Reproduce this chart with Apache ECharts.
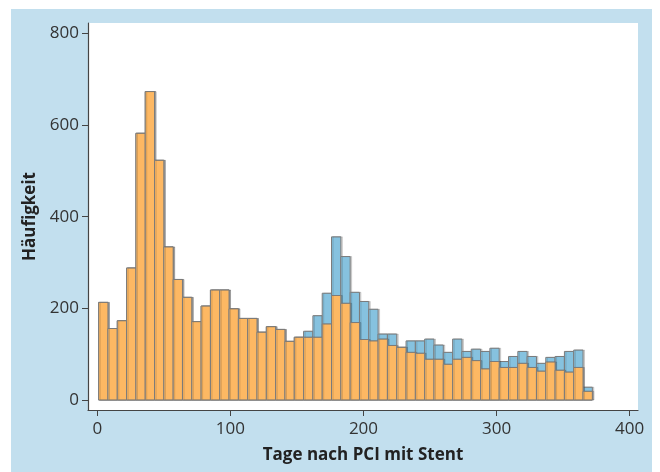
<!DOCTYPE html>
<html>
<head>
<meta charset="utf-8">
<script src="https://cdn.jsdelivr.net/npm/echarts@6/dist/echarts.min.js"></script>
<style>
html,body{margin:0;padding:0;background:#fff;}
#c{width:660px;height:472px;}
</style>
</head>
<body>
<div id="c"></div>
<script>
// bin start (days), bin width 7 days
var binStarts = [1,8,15,22,29,36,43,50,57,64,71,78,85,92,99,106,113,120,127,134,141,148,155,162,169,176,183,190,197,204,211,218,225,232,239,246,253,260,267,274,281,288,295,302,309,316,323,330,337,344,351,358,365];
var binWidth = 7;
// orange part (front)
var orangeCounts = [213,156,173,288,582,673,523,334,263,224,171,205,240,240,199,178,178,148,160,154,128,137,137,137,166,228,211,169,132,129,133,119,115,104,102,89,89,78,89,93,86,68,84,71,71,80,71,63,83,65,61,71,19];
// total (blue, behind)
var totalCounts = [213,156,173,288,582,673,523,334,263,224,171,205,240,240,199,178,178,148,160,154,128,137,150,184,233,356,313,235,215,198,144,144,115,129,129,133,120,104,133,106,111,106,113,84,95,106,95,80,93,95,106,109,28];
var yTicks = [0,200,400,600,800];
var xTicks = [0,100,200,300,400];

function mk(vals){
  return binStarts.map(function(s,i){return [s, s+binWidth, vals[i]];});
}
function render(color){
  return function(params, api){
    var p0 = api.coord([api.value(0), api.value(2)]);
    var p1 = api.coord([api.value(1), 0]);
    return {
      type:'rect',
      shape:{x:p0[0], y:p0[1], width:p1[0]-p0[0], height:p1[1]-p0[1]},
      style:{fill:color, stroke:'#7b7b7b', lineWidth:1,
             shadowColor:'rgba(0,0,0,0.15)', shadowOffsetX:1.5, shadowOffsetY:0, shadowBlur:0}
    };
  };
}
var chart = echarts.init(document.getElementById('c'), null, {renderer:'canvas'});
chart.setOption({
  backgroundColor:'#fff',
  animation:false,
  graphic:[{type:'rect', left:11, top:9, shape:{width:641, height:463}, style:{fill:'#c2dfee'}, z:-10}],
  grid:{left:88, top:23, right:22, bottom:62, show:true, backgroundColor:'#fff', borderWidth:0},
  xAxis:{
    type:'value', min:-7, max:406.3,
    name:'Tage nach PCI mit Stent', nameLocation:'middle', nameGap:37,
    nameTextStyle:{fontFamily:'Open Sans', fontWeight:'bold', fontSize:17, color:'#222'},
    axisLine:{show:true, onZero:false, lineStyle:{color:'#444', width:1.2}},
    axisTick:{show:true, length:6, customValues:xTicks, lineStyle:{color:'#444'}},
    axisLabel:{customValues:xTicks, margin:11, fontFamily:'Open Sans', fontSize:17, color:'#333'},
    splitLine:{show:false}
  },
  yAxis:{
    type:'value', min:-21.8, max:822.6,
    name:'Häufigkeit', nameLocation:'middle', nameGap:46, nameRotate:90,
    nameTextStyle:{fontFamily:'Open Sans', fontWeight:'bold', fontSize:17, color:'#222'},
    axisLine:{show:true, onZero:false, lineStyle:{color:'#444', width:1.2}},
    axisTick:{show:true, length:6, customValues:yTicks, lineStyle:{color:'#444'}},
    axisLabel:{customValues:yTicks, margin:9, fontFamily:'Open Sans', fontSize:17, color:'#333'},
    splitLine:{show:false}
  },
  series:[
    {type:'custom', name:'gesamt', renderItem:render('#86c2df'), data:mk(totalCounts), encode:{x:[0,1], y:2}, z:2},
    {type:'custom', name:'orange', renderItem:render('#fdb863'), data:mk(orangeCounts), encode:{x:[0,1], y:2}, z:3}
  ]
});
</script>
</body>
</html>
